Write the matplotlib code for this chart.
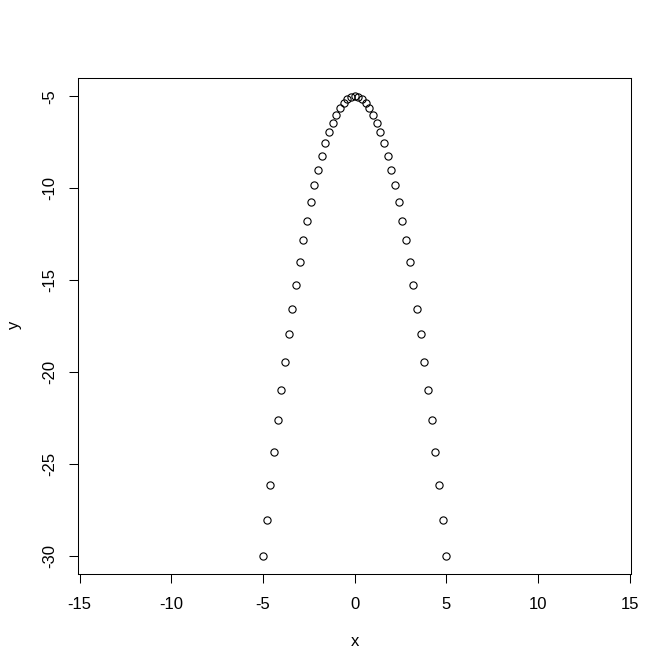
import numpy as np
import matplotlib.pyplot as plt

# valores (passo de 0.2 em x)
x = [-5.0, -4.8, -4.6, -4.4, -4.2, -4.0, -3.8, -3.6, -3.4, -3.2, -3.0,
     -2.8, -2.6, -2.4, -2.2, -2.0, -1.8, -1.6, -1.4, -1.2, -1.0,
     -0.8, -0.6, -0.4, -0.2, 0.0, 0.2, 0.4, 0.6, 0.8, 1.0,
     1.2, 1.4, 1.6, 1.8, 2.0, 2.2, 2.4, 2.6, 2.8, 3.0,
     3.2, 3.4, 3.6, 3.8, 4.0, 4.2, 4.4, 4.6, 4.8, 5.0]
y = [-30.0, -28.04, -26.16, -24.36, -22.64, -21.0, -19.44, -17.96, -16.56, -15.24, -14.0,
     -12.84, -11.76, -10.76, -9.84, -9.0, -8.24, -7.56, -6.96, -6.44, -6.0,
     -5.64, -5.36, -5.16, -5.04, -5.0, -5.04, -5.16, -5.36, -5.64, -6.0,
     -6.44, -6.96, -7.56, -8.24, -9.0, -9.84, -10.76, -11.76, -12.84, -14.0,
     -15.24, -16.56, -17.96, -19.44, -21.0, -22.64, -24.36, -26.16, -28.04, -30.0]

xticks = [-15, -10, -5, 0, 5, 10, 15]
yticks = [-30, -25, -20, -15, -10, -5]

plt.rcParams['font.family'] = ['Liberation Sans', 'DejaVu Sans']

fig = plt.figure(figsize=(6.72, 6.72), dpi=100)
ax = fig.add_axes([0.1168, 0.1458, 0.8222, 0.7381])

ax.plot(x, y, 'o', mfc='none', mec='black', markersize=5.2, markeredgewidth=0.8)

ax.set_xlim(-15.06, 15.06)
ax.set_ylim(-31, -4)
ax.set_xticks(xticks)
ax.set_yticks(yticks)
ax.set_xticklabels([str(t) for t in xticks])
ax.set_yticklabels([str(t) for t in yticks], rotation=90, va='center')

ax.tick_params(direction='out', length=6.5, width=0.75, labelsize=12, colors='black')
ax.tick_params(axis='x', pad=10)
ax.tick_params(axis='y', pad=9)
for s in ax.spines.values():
    s.set_linewidth(0.75)

fig.text(355/672, 1 - 642/672, 'x', ha='center', va='center', fontsize=12)
fig.text(14/672, 1 - 325/672, 'y', ha='center', va='center', fontsize=12, rotation=90)

fig.savefig('out.png', dpi=100)
